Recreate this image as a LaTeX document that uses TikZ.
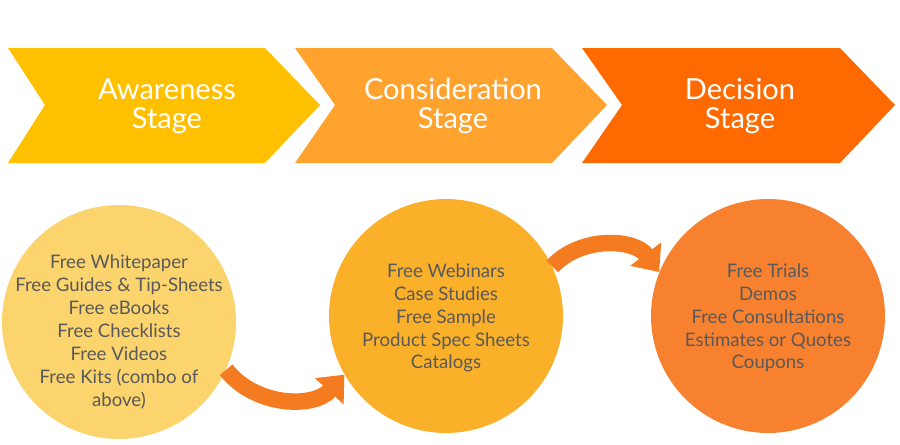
\documentclass[tikz,border=0pt]{standalone}
\usepackage{fontspec}
\setmainfont{Lato}
\usetikzlibrary{arrows.meta}
\definecolor{awareC}{HTML}{FFC000}
\definecolor{considC}{HTML}{FFA32E}
\definecolor{decisC}{HTML}{FF6A00}
\definecolor{awareL}{HTML}{FCD46E}
\definecolor{considL}{HTML}{FBB02A}
\definecolor{decisL}{HTML}{F8812F}
\definecolor{flowC}{HTML}{F47B20}
\definecolor{textC}{HTML}{595959}
\tikzset{
  stage/.style={white,font=\fontsize{16.5}{16.5}\selectfont,align=center},
  bubble/.style={circle,minimum size=4.68cm,inner sep=0pt},
  items/.style={textC,font=\fontsize{10.6}{13}\selectfont,align=center},
  flow/.style={flowC,line width=0.33cm,-{Triangle[width=0.75cm,length=0.45cm]}}
}
\begin{document}
\begin{tikzpicture}[x=0.02cm,y=-0.02cm]
  \useasboundingbox (0,0) rectangle (900,444);

  % Draw the stage chevrons
  \fill[awareC] (8,48) -- (265,48) -- (320,105) -- (265,163) -- (8,163) -- (45,105) -- cycle;
  \fill[considC] (295,48) -- (552,48) -- (607,105) -- (552,163) -- (295,163) -- (335,105) -- cycle;
  \fill[decisC] (582,48) -- (840,48) -- (895,105) -- (840,163) -- (582,163) -- (622,105) -- cycle;
  \node[stage] (aw) at (167,106) {Awareness\\Stage};
  \node[stage] (co) at (453,106) {Consideration\\Stage};
  \node[stage] (de) at (740,106) {Decision\\Stage};

  % Draw the content circles
  \node[bubble,fill=awareL] (c1) at (119,322) {};
  \node[bubble,fill=considL] (c2) at (446,316) {};
  \node[bubble,fill=decisL] (c3) at (768,316) {};
  \node[items] (t1) at (119,332) {Free Whitepaper\\Free Guides \& Tip-Sheets\\Free eBooks\\Free Checklists\\Free Videos\\Free Kits (combo of\\above)};
  \node[items] (t2) at (446,318) {Free Webinars\\Case Studies\\Free Sample\\Product Spec Sheets\\Catalogs};
  \node[items] (t3) at (768,318) {Free Trials\\Demos\\Free Consultations\\Estimates or Quotes\\Coupons};

  % Draw the flow arrows
  \draw[flow] (c1.-24) to[bend right=50] (c2.-150);
  \draw[flow] (c2.25) to[bend left=50] (c3.158);
\end{tikzpicture}
\end{document}
